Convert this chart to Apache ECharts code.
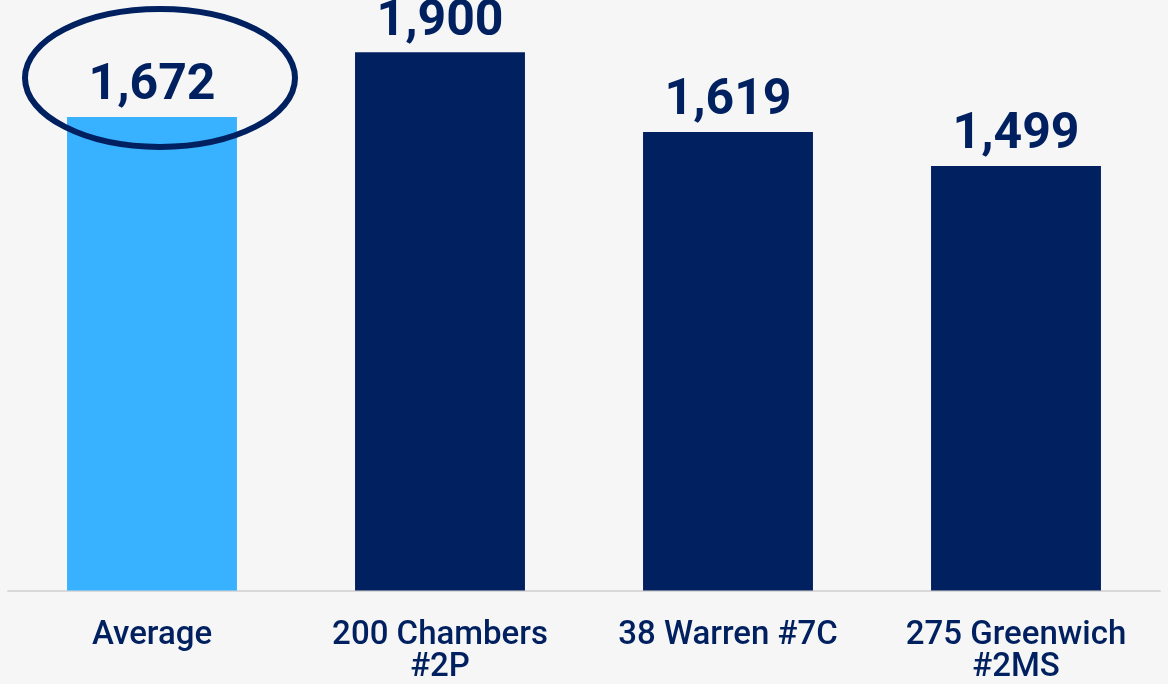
<!DOCTYPE html>
<html>
<head>
<meta charset="utf-8">
<script src="https://cdn.jsdelivr.net/npm/echarts@6/dist/echarts.min.js"></script>
<style>
  html, body { margin: 0; padding: 0; background: #f6f6f6; }
  #chart { width: 1168px; height: 684px; }
</style>
</head>
<body>
<div id="chart"></div>
<script>
// Monthly common charges by unit
const categories = ['Average', '200 Chambers\n#2P', '38 Warren #7C', '275 Greenwich\n#2MS'];
const values = [1672, 1900, 1619, 1499];
const barColors = ['#38b1ff', '#00205f', '#00205f', '#00205f'];

const NAVY = '#00205f';

const chart = echarts.init(document.getElementById('chart'));

chart.setOption({
  backgroundColor: '#f6f6f6',
  animation: false,
  grid: { left: 8, right: 8, top: 24, bottom: 93 },
  xAxis: {
    type: 'category',
    data: categories,
    axisTick: { show: false },
    axisLine: { lineStyle: { color: '#d9d9d9', width: 2 } },
    axisLabel: {
      color: NAVY,
      fontFamily: 'Roboto',
      fontWeight: 500,
      fontSize: 33,
      lineHeight: 32,
      margin: 29,
      interval: 0
    }
  },
  yAxis: {
    type: 'value',
    min: 0,
    max: 2000,
    show: false,
    splitLine: { show: false }
  },
  series: [{
    type: 'bar',
    barCategoryGap: '41%',
    data: values.map((v, i) => ({ value: v, itemStyle: { color: barColors[i] } })),
    label: {
      show: true,
      position: 'top',
      distance: 5,
      color: NAVY,
      fontFamily: 'Roboto',
      fontWeight: 'bold',
      fontSize: 50,
      formatter: p => p.value.toLocaleString('en-US')
    }
  }]
});

// Highlight ring around the average value label
const center = chart.convertToPixel({ seriesIndex: 0 }, [0, values[0]]);
chart.setOption({
  graphic: [{
    type: 'ellipse',
    shape: { cx: center[0] + 8, cy: center[1] - 39, rx: 135, ry: 69 },
    style: { fill: null, stroke: NAVY, lineWidth: 6 },
    z: 100
  }]
});
</script>
</body>
</html>
